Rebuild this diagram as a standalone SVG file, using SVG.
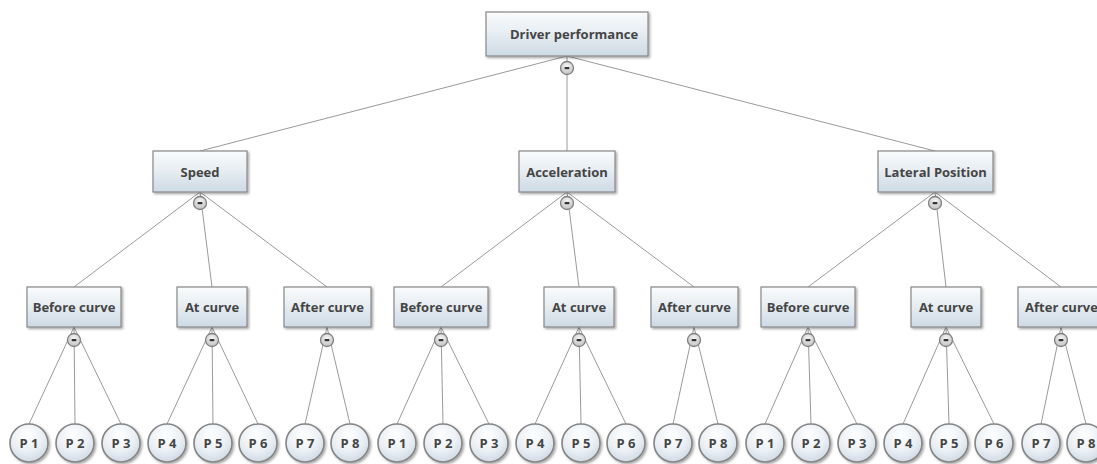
<svg xmlns="http://www.w3.org/2000/svg" width="1097" height="464" viewBox="0 0 1097 464">
<style>
.box{fill:url(#bg);stroke:#878787;stroke-width:1.2;filter:url(#sh)}
.leaf{fill:url(#lg);stroke:#858585;stroke-width:1.6;filter:url(#sh)}
.t{font-family:"Open Sans","Liberation Sans",sans-serif;font-weight:bold;font-size:13px;fill:#454545;text-anchor:middle;dominant-baseline:central}
.lt{font-family:"Open Sans","Liberation Sans",sans-serif;font-weight:bold;font-size:13px;fill:#454545;text-anchor:middle;dominant-baseline:central}
.c line{stroke:#9a9a9a;stroke-width:1;fill:none}
.tog circle{fill:url(#tg);stroke:#808080;stroke-width:1.3}
.tog rect{fill:#333}
</style>
<defs>
<linearGradient id="bg" x1="0" y1="0" x2="0" y2="1">
<stop offset="0" stop-color="#fafbfc"/>
<stop offset="0.45" stop-color="#e8eef3"/>
<stop offset="1" stop-color="#cddae5"/>
</linearGradient>
<radialGradient id="lg" cx="0.45" cy="0.3" r="0.75">
<stop offset="0" stop-color="#ffffff"/>
<stop offset="0.55" stop-color="#ebf0f5"/>
<stop offset="1" stop-color="#cbd7e2"/>
</radialGradient>
<radialGradient id="tg" cx="0.5" cy="0.35" r="0.7">
<stop offset="0" stop-color="#f5f5f5"/>
<stop offset="1" stop-color="#bdbdbd"/>
</radialGradient>
<filter id="sh" x="-20%" y="-20%" width="140%" height="150%">
<feDropShadow dx="1.5" dy="1.5" stdDeviation="1" flood-color="#000" flood-opacity="0.35"/>
</filter>
</defs>
<rect width="1097" height="464" fill="#fff"/>

<g id="connectors" class="c">
<line x1="567" y1="56" x2="200" y2="151"/>
<line x1="567" y1="56" x2="567" y2="151"/>
<line x1="567" y1="56" x2="935" y2="151"/>
<line x1="200" y1="192" x2="74" y2="287"/>
<line x1="200" y1="192" x2="212" y2="287"/>
<line x1="200" y1="192" x2="327" y2="287"/>
<line x1="567" y1="192" x2="441" y2="287"/>
<line x1="567" y1="192" x2="579" y2="287"/>
<line x1="567" y1="192" x2="694" y2="287"/>
<line x1="935" y1="192" x2="808" y2="287"/>
<line x1="935" y1="192" x2="946" y2="287"/>
<line x1="935" y1="192" x2="1061" y2="287"/>
<line x1="74" y1="327" x2="29" y2="424"/>
<line x1="74" y1="327" x2="75" y2="424"/>
<line x1="74" y1="327" x2="121" y2="424"/>
<line x1="212" y1="327" x2="167" y2="424"/>
<line x1="212" y1="327" x2="213" y2="424"/>
<line x1="212" y1="327" x2="258" y2="424"/>
<line x1="327" y1="327" x2="305" y2="424"/>
<line x1="327" y1="327" x2="350" y2="424"/>
<line x1="441" y1="327" x2="397" y2="424"/>
<line x1="441" y1="327" x2="443" y2="424"/>
<line x1="441" y1="327" x2="489" y2="424"/>
<line x1="579" y1="327" x2="535" y2="424"/>
<line x1="579" y1="327" x2="581" y2="424"/>
<line x1="579" y1="327" x2="626" y2="424"/>
<line x1="694" y1="327" x2="673" y2="424"/>
<line x1="694" y1="327" x2="718" y2="424"/>
<line x1="808" y1="327" x2="765" y2="424"/>
<line x1="808" y1="327" x2="811" y2="424"/>
<line x1="808" y1="327" x2="857" y2="424"/>
<line x1="946" y1="327" x2="903" y2="424"/>
<line x1="946" y1="327" x2="949" y2="424"/>
<line x1="946" y1="327" x2="994" y2="424"/>
<line x1="1061" y1="327" x2="1041" y2="424"/>
<line x1="1061" y1="327" x2="1086" y2="424"/>
</g>

<g id="toggles" class="tog">
<g><circle cx="567" cy="68" r="6.5"/><rect x="564.5" y="67" width="5" height="2.2" rx="1"/></g>
<g><circle cx="200" cy="203" r="6.5"/><rect x="197.5" y="202" width="5" height="2.2" rx="1"/></g>
<g><circle cx="567" cy="203" r="6.5"/><rect x="564.5" y="202" width="5" height="2.2" rx="1"/></g>
<g><circle cx="935" cy="203" r="6.5"/><rect x="932.5" y="202" width="5" height="2.2" rx="1"/></g>
<g><circle cx="74" cy="340" r="6.5"/><rect x="71.5" y="339" width="5" height="2.2" rx="1"/></g>
<g><circle cx="212" cy="340" r="6.5"/><rect x="209.5" y="339" width="5" height="2.2" rx="1"/></g>
<g><circle cx="327" cy="340" r="6.5"/><rect x="324.5" y="339" width="5" height="2.2" rx="1"/></g>
<g><circle cx="441" cy="340" r="6.5"/><rect x="438.5" y="339" width="5" height="2.2" rx="1"/></g>
<g><circle cx="579" cy="340" r="6.5"/><rect x="576.5" y="339" width="5" height="2.2" rx="1"/></g>
<g><circle cx="694" cy="340" r="6.5"/><rect x="691.5" y="339" width="5" height="2.2" rx="1"/></g>
<g><circle cx="808" cy="340" r="6.5"/><rect x="805.5" y="339" width="5" height="2.2" rx="1"/></g>
<g><circle cx="946" cy="340" r="6.5"/><rect x="943.5" y="339" width="5" height="2.2" rx="1"/></g>
<g><circle cx="1061" cy="340" r="6.5"/><rect x="1058.5" y="339" width="5" height="2.2" rx="1"/></g>
</g>

<g id="n-root"><rect class="box" x="486" y="12" width="162" height="44"/><text class="t" x="574" y="34">Driver performance</text></g>

<g id="n-speed"><rect class="box" x="153" y="151" width="94" height="41"/><text class="t" x="200" y="171.5">Speed</text></g>
<g id="n-accel"><rect class="box" x="519" y="151" width="96" height="41"/><text class="t" x="567" y="171.5">Acceleration</text></g>
<g id="n-lat"><rect class="box" x="878" y="151" width="115" height="41"/><text class="t" x="935.5" y="171.5">Lateral Position</text></g>

<g id="n-s-before"><rect class="box" x="27" y="287" width="94" height="40"/><text class="t" x="74" y="307">Before curve</text></g>
<g id="n-s-at"><rect class="box" x="177" y="287" width="70" height="40"/><text class="t" x="212" y="307">At curve</text></g>
<g id="n-s-after"><rect class="box" x="284" y="287" width="87" height="40"/><text class="t" x="327.5" y="307">After curve</text></g>
<g id="n-a-before"><rect class="box" x="394" y="287" width="94" height="40"/><text class="t" x="441" y="307">Before curve</text></g>
<g id="n-a-at"><rect class="box" x="544" y="287" width="70" height="40"/><text class="t" x="579" y="307">At curve</text></g>
<g id="n-a-after"><rect class="box" x="651" y="287" width="87" height="40"/><text class="t" x="694.5" y="307">After curve</text></g>
<g id="n-l-before"><rect class="box" x="761" y="287" width="94" height="40"/><text class="t" x="808" y="307">Before curve</text></g>
<g id="n-l-at"><rect class="box" x="911" y="287" width="70" height="40"/><text class="t" x="946" y="307">At curve</text></g>
<g id="n-l-after"><rect class="box" x="1018" y="287" width="87" height="40"/><text class="t" x="1061.5" y="307">After curve</text></g>

<g id="p-s-1"><circle class="leaf" cx="29" cy="443" r="19"/><text class="lt" x="29" y="443">P 1</text></g>
<g id="p-s-2"><circle class="leaf" cx="75" cy="443" r="19"/><text class="lt" x="75" y="443">P 2</text></g>
<g id="p-s-3"><circle class="leaf" cx="121" cy="443" r="19"/><text class="lt" x="121" y="443">P 3</text></g>
<g id="p-s-4"><circle class="leaf" cx="167" cy="443" r="19"/><text class="lt" x="167" y="443">P 4</text></g>
<g id="p-s-5"><circle class="leaf" cx="213" cy="443" r="19"/><text class="lt" x="213" y="443">P 5</text></g>
<g id="p-s-6"><circle class="leaf" cx="258" cy="443" r="19"/><text class="lt" x="258" y="443">P 6</text></g>
<g id="p-s-7"><circle class="leaf" cx="305" cy="443" r="19"/><text class="lt" x="305" y="443">P 7</text></g>
<g id="p-s-8"><circle class="leaf" cx="350" cy="443" r="19"/><text class="lt" x="350" y="443">P 8</text></g>
<g id="p-a-1"><circle class="leaf" cx="397" cy="443" r="19"/><text class="lt" x="397" y="443">P 1</text></g>
<g id="p-a-2"><circle class="leaf" cx="443" cy="443" r="19"/><text class="lt" x="443" y="443">P 2</text></g>
<g id="p-a-3"><circle class="leaf" cx="489" cy="443" r="19"/><text class="lt" x="489" y="443">P 3</text></g>
<g id="p-a-4"><circle class="leaf" cx="535" cy="443" r="19"/><text class="lt" x="535" y="443">P 4</text></g>
<g id="p-a-5"><circle class="leaf" cx="581" cy="443" r="19"/><text class="lt" x="581" y="443">P 5</text></g>
<g id="p-a-6"><circle class="leaf" cx="626" cy="443" r="19"/><text class="lt" x="626" y="443">P 6</text></g>
<g id="p-a-7"><circle class="leaf" cx="673" cy="443" r="19"/><text class="lt" x="673" y="443">P 7</text></g>
<g id="p-a-8"><circle class="leaf" cx="718" cy="443" r="19"/><text class="lt" x="718" y="443">P 8</text></g>
<g id="p-l-1"><circle class="leaf" cx="765" cy="443" r="19"/><text class="lt" x="765" y="443">P 1</text></g>
<g id="p-l-2"><circle class="leaf" cx="811" cy="443" r="19"/><text class="lt" x="811" y="443">P 2</text></g>
<g id="p-l-3"><circle class="leaf" cx="857" cy="443" r="19"/><text class="lt" x="857" y="443">P 3</text></g>
<g id="p-l-4"><circle class="leaf" cx="903" cy="443" r="19"/><text class="lt" x="903" y="443">P 4</text></g>
<g id="p-l-5"><circle class="leaf" cx="949" cy="443" r="19"/><text class="lt" x="949" y="443">P 5</text></g>
<g id="p-l-6"><circle class="leaf" cx="994" cy="443" r="19"/><text class="lt" x="994" y="443">P 6</text></g>
<g id="p-l-7"><circle class="leaf" cx="1041" cy="443" r="19"/><text class="lt" x="1041" y="443">P 7</text></g>
<g id="p-l-8"><circle class="leaf" cx="1086" cy="443" r="19"/><text class="lt" x="1086" y="443">P 8</text></g>
</svg>
